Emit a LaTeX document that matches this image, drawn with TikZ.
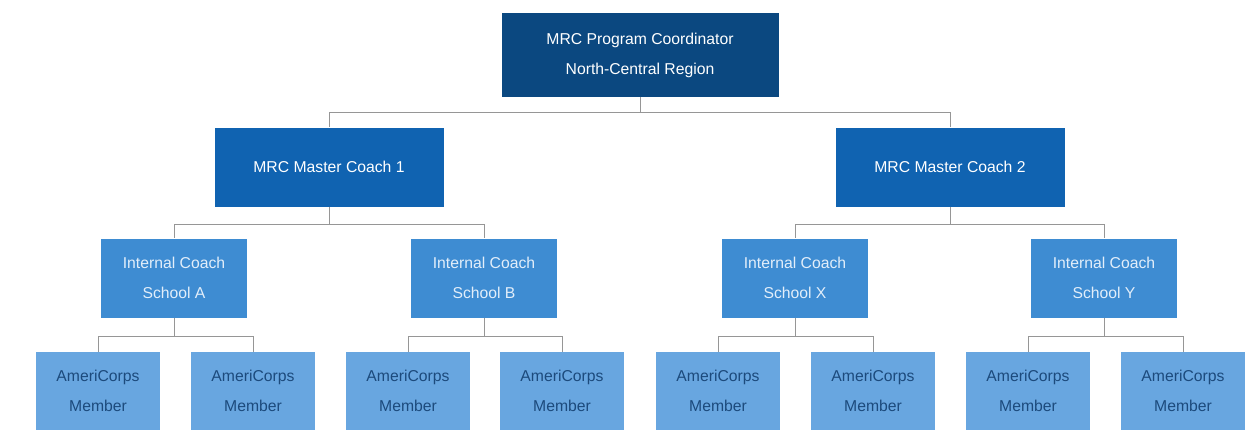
\documentclass[tikz,border=0pt]{standalone}
\usepackage{fontspec}
\setmainfont{Liberation Sans}
\usetikzlibrary{positioning}
\definecolor{navyblue}{RGB}{11,72,128}
\definecolor{masterblue}{RGB}{16,99,177}
\definecolor{coachblue}{RGB}{62,140,210}
\definecolor{memberblue}{RGB}{104,166,224}
\definecolor{coachtext}{RGB}{226,238,250}
\definecolor{membertext}{RGB}{28,74,124}
\definecolor{linkgray}{RGB}{150,150,150}
\tikzset{
chart box/.style={rectangle,inner sep=0pt,align=center,
  font=\fontsize{11.8}{22.5}\selectfont},
coord box/.style={chart box,fill=navyblue,text=white,
  minimum width=207.75pt,minimum height=63pt},
master box/.style={chart box,fill=masterblue,text=white,
  minimum width=171.75pt,minimum height=59.25pt},
coach box/.style={chart box,fill=coachblue,text=coachtext,
  minimum width=109.5pt,minimum height=59.25pt},
member box/.style={chart box,fill=memberblue,text=membertext,
  minimum width=93pt,minimum height=58.5pt},
link/.style={draw=linkgray,line width=0.6pt}
}

\begin{document}
\begin{tikzpicture}[x=0.75pt,y=-0.75pt]
	\useasboundingbox (0,0) rectangle (1249,435);
	\node[coord box] (coordinator) at (640,55) {MRC Program Coordinator\\North-Central Region};
	\node[master box] (master1) at (329,167) {MRC Master Coach 1};
	\node[master box] (master2) at (950,167) {MRC Master Coach 2};
	\coordinate (topbus) at (640,112);
	\draw[link] (coordinator.south) -- (topbus) -| (master1.north);
	\draw[link] (topbus) -| (master2.north);
	% schools and their members
	\foreach \sch/\xc/\xl/\xr in {A/174/98/253, B/484/408/562, X/795/718/873, Y/1104/1028/1183} {
		\node[coach box] (coach\sch) at (\xc,278) {Internal Coach\\School \sch};
		\node[member box] (member\sch1) at (\xl,391) {AmeriCorps\\Member};
		\node[member box] (member\sch2) at (\xr,391) {AmeriCorps\\Member};
		\coordinate (bus\sch) at (\xc,336);
		\draw[link] (coach\sch.south) -- (bus\sch) -| (member\sch1.north);
		\draw[link] (bus\sch) -| (member\sch2.north);
	}
	\coordinate (busM1) at (329,224);
	\coordinate (busM2) at (950,224);
	\draw[link] (master1.south) -- (busM1) -| (coachA.north);
	\draw[link] (busM1) -| (coachB.north);
	\draw[link] (master2.south) -- (busM2) -| (coachX.north);
	\draw[link] (busM2) -| (coachY.north);
\end{tikzpicture}
\end{document}
